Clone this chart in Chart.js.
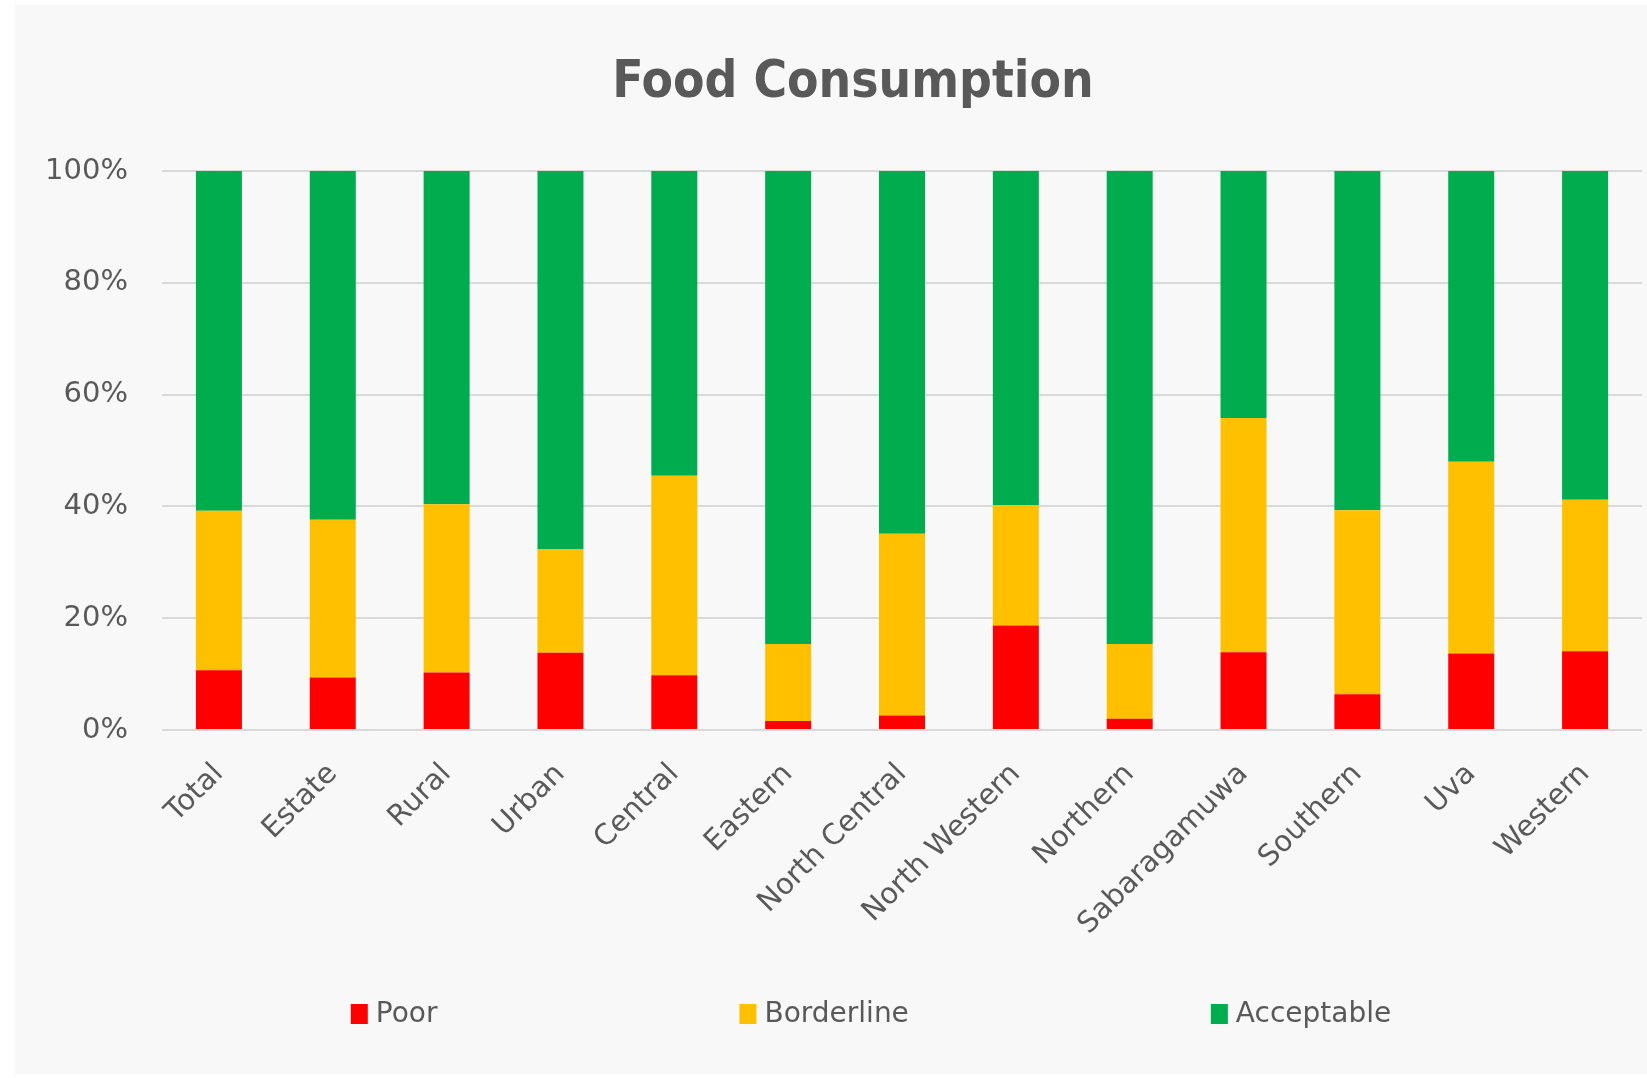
<!DOCTYPE html>
<html>
<head>
<meta charset="utf-8">
<script src="https://cdn.jsdelivr.net/npm/chart.js@4/dist/chart.umd.min.js"></script>
<style>
  html, body { margin: 0; padding: 0; background: #ffffff; }
  #wrap { width: 1647px; height: 1078px; position: relative; }
  canvas { display: block; }
</style>
</head>
<body>
<div id="wrap"><canvas id="c" width="1647" height="1078"></canvas></div>
<script>
const categories = ["Total", "Estate", "Rural", "Urban", "Central", "Eastern", "North Central", "North Western", "Northern", "Sabaragamuwa", "Southern", "Uva", "Western"];
const poor       = [10.7,  9.4, 10.3, 13.8,  9.8,  1.6,  2.6, 18.7,  2.0, 13.9,  6.4, 13.7, 14.1];
const borderline = [28.5, 28.2, 30.1, 18.6, 35.7, 13.8, 32.5, 21.5, 13.4, 41.9, 32.9, 34.3, 27.1];
const acceptable = [60.8, 62.4, 59.6, 67.6, 54.5, 84.6, 64.9, 59.8, 84.6, 44.2, 60.7, 52.0, 58.8];
const seriesNames = ["Poor", "Borderline", "Acceptable"];
const seriesColors = ["#ff0000", "#ffc000", "#00ac4e"];
const yTicks = [0, 20, 40, 60, 80, 100];
const chartTitle = "Food Consumption";

const TEXT = "#595959";
const FONT = "'DejaVu Sans', Verdana, sans-serif";

const panelBg = {
  id: 'panelBg',
  beforeDraw(chart) {
    const ctx = chart.ctx;
    ctx.save();
    ctx.fillStyle = "#ffffff";
    ctx.fillRect(0, 0, chart.width, chart.height);
    ctx.fillStyle = "#f8f8f9";
    ctx.fillRect(15, 5, chart.width - 15, chart.height - 9);
    ctx.restore();
  }
};

const topTitle = {
  id: 'topTitle',
  afterDraw(chart) {
    const ctx = chart.ctx;
    ctx.save();
    ctx.font = "bold 51px 'DejaVu Sans Condensed', 'DejaVu Sans', sans-serif";
    ctx.fillStyle = TEXT;
    ctx.textAlign = "center";
    ctx.textBaseline = "alphabetic";
    ctx.fillText(chartTitle, 853, 97);
    ctx.restore();
  }
};

const bottomLegend = {
  id: 'bottomLegend',
  afterDraw(chart) {
    const ctx = chart.ctx;
    ctx.save();
    ctx.font = "28px " + FONT;
    const boxW = 17, boxH = 20, gapText = 8, gapItem = 302;
    const items = chart.data.datasets.map(d => ({ label: d.label, color: d.backgroundColor, w: boxW + gapText + ctx.measureText(d.label).width }));
    const total = items.reduce((s, it) => s + it.w, 0) + gapItem * (items.length - 1);
    let x = (chart.width + 15) / 2 - total / 2 + 40;
    const cy = 1014;
    ctx.textBaseline = "middle";
    ctx.textAlign = "left";
    items.forEach(it => {
      ctx.fillStyle = it.color;
      ctx.fillRect(x, cy - boxH / 2, boxW, boxH);
      ctx.fillStyle = TEXT;
      ctx.fillText(it.label, x + boxW + gapText, cy + 1);
      x += it.w + gapItem;
    });
    ctx.restore();
  }
};

const datasets = [poor, borderline, acceptable].map((vals, i) => ({
  label: seriesNames[i],
  data: vals,
  backgroundColor: seriesColors[i],
  borderWidth: 0,
  barPercentage: 0.404,
  categoryPercentage: 1.0
}));

new Chart(document.getElementById('c'), {
  type: 'bar',
  data: { labels: categories, datasets },
  options: {
    responsive: false,
    animation: false,
    layout: { padding: { left: 0, right: 5, top: 171, bottom: 0 } },
    plugins: {
      legend: { display: false },
      tooltip: { enabled: false },
      title: { display: false }
    },
    scales: {
      x: {
        stacked: true,
        grid: { display: false, drawTicks: false },
        border: { display: false },
        ticks: {
          color: TEXT,
          font: { family: FONT, size: 29 },
          minRotation: 45, maxRotation: 45,
          autoSkip: false,
          padding: 27
        },
        afterFit(scale) { scale.height = 1078 - 730; }
      },
      y: {
        stacked: true,
        min: 0, max: 100,
        afterBuildTicks(scale) { scale.ticks = yTicks.map(v => ({ value: v })); },
        grid: { color: "#d9d9d9", lineWidth: 2, drawTicks: false },
        border: { display: false },
        ticks: {
          color: TEXT,
          font: { family: FONT, size: 29 },
          padding: 34,
          callback: v => v + "%"
        },
        afterFit(scale) { scale.width = 162; }
      }
    }
  },
  plugins: [panelBg, topTitle, bottomLegend]
});
</script>
</body>
</html>
